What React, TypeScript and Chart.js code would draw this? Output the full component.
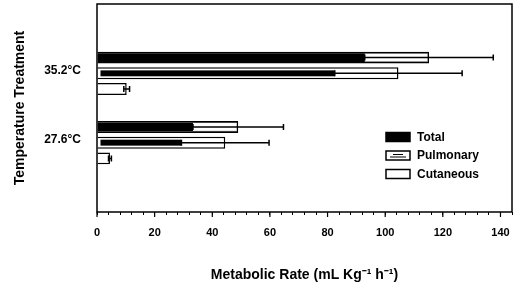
import React, { useEffect, useRef } from 'react';
import { Chart, registerables } from 'chart.js';

Chart.register(...registerables);

// ---- data ----
const categories = ['', '35.2°C', '27.6°C', ''];
const seriesNames = ['Total', 'Pulmonary', 'Cutaneous'];
const totalValues = [null, 115.2, 49.0, null];
const pulmonaryValues = [null, 104.6, 44.5, null];
const cutaneousValues = [null, 10.3, 4.5, null];
const totalErrors = [null, 22.3, 15.7, null];
const pulmonaryErrors = [null, 22.1, 15.2, null];
const cutaneousErrors = [null, 1.0, 0.5, null];
const xMin = 0;
const xMax = 144;
const xTickStep = 4;
const xLabelStep = 20;
const xTitle = 'Metabolic Rate (mL Kg⁻¹ h⁻¹)';
const yTitle = 'Temperature Treatment';

const FONT = 'Arial, "Liberation Sans", Helvetica, sans-serif';

const errorPlugin = {
  id: 'errorBars',
  afterDatasetsDraw(chart: any) {
    const ctx = chart.ctx;
    const xs = chart.scales.x;
    chart.data.datasets.forEach((ds: any, i: number) => {
      const meta = chart.getDatasetMeta(i);
      meta.data.forEach((bar: any, j: number) => {
        const v = ds.data[j];
        const e = ds.errors[j];
        if (v == null || e == null) return;
        const { x, y, base, height } = bar.getProps(['x', 'y', 'base', 'height'], true);
        const top = y - height / 2;
        const pLow = xs.getPixelForValue(v - e);
        const pHigh = xs.getPixelForValue(v + e);
        ctx.save();
        if (ds.kind === 'solid') {
          ctx.fillStyle = '#fff';
          ctx.fillRect(pLow, top + 2, x - 1.5 - pLow, height - 4);
        } else if (ds.kind === 'pattern') {
          ctx.fillStyle = '#000';
          ctx.fillRect(base + 3, top + 3, Math.max(0, pLow - base - 3), height - 6);
        }
        ctx.strokeStyle = '#000';
        ctx.lineWidth = 1.5;
        ctx.beginPath();
        ctx.moveTo(pLow, y);
        ctx.lineTo(pHigh, y);
        ctx.moveTo(pLow, y - 3);
        ctx.lineTo(pLow, y + 3);
        ctx.moveTo(pHigh, y - 3);
        ctx.lineTo(pHigh, y + 3);
        ctx.stroke();
        ctx.restore();
      });
    });
  },
  afterDraw(chart: any) {
    const ctx = chart.ctx;
    const { left, right, top, bottom } = chart.chartArea;
    const xs = chart.scales.x;
    ctx.save();
    // frame
    ctx.strokeStyle = '#000';
    ctx.lineWidth = 1.5;
    ctx.strokeRect(left, top, right - left, bottom - top);
    // major ticks
    ctx.lineWidth = 1.2;
    ctx.beginPath();
    for (let v = xMin; v <= xMax; v += xLabelStep) {
      const px = xs.getPixelForValue(v);
      ctx.moveTo(px, bottom);
      ctx.lineTo(px, bottom + 5);
    }
    ctx.stroke();
    // legend
    const boxX = right - 126;
    const boxW = 24;
    const boxH = 9;
    const rowY0 = top + 133;
    const rowGap = 18.5;
    ctx.font = `bold 12px ${FONT}`;
    ctx.textBaseline = 'middle';
    ctx.textAlign = 'left';
    chart.data.datasets.forEach((ds: any, i: number) => {
      const cy = rowY0 + i * rowGap;
      const by = cy - boxH / 2;
      ctx.fillStyle = ds.backgroundColor;
      ctx.fillRect(boxX, by, boxW, boxH);
      ctx.strokeStyle = '#000';
      ctx.lineWidth = 1.5;
      ctx.strokeRect(boxX, by, boxW, boxH);
      if (ds.kind === 'pattern') {
        ctx.lineWidth = 1;
        ctx.beginPath();
        ctx.moveTo(boxX + 7, cy - 1);
        ctx.lineTo(boxX + 17, cy - 1);
        ctx.moveTo(boxX + 4, cy + 1.5);
        ctx.lineTo(boxX + 20, cy + 1.5);
        ctx.stroke();
      }
      ctx.fillStyle = '#000';
      ctx.fillText(ds.label, boxX + boxW + 7, cy + 0.5);
    });
    ctx.restore();
  },
};

export default function App() {
  const ref = useRef<HTMLCanvasElement | null>(null);

  useEffect(() => {
    document.body.style.margin = '0';
    const canvas = ref.current;
    if (!canvas) return;
    const chart = new Chart(canvas, {
      type: 'bar',
      data: {
        labels: categories,
        datasets: [
          {
            label: seriesNames[0],
            data: totalValues,
            errors: totalErrors,
            kind: 'solid',
            backgroundColor: '#000',
            borderColor: '#000',
            borderWidth: 1.5,
          },
          {
            label: seriesNames[1],
            data: pulmonaryValues,
            errors: pulmonaryErrors,
            kind: 'pattern',
            backgroundColor: '#fff',
            borderColor: '#000',
            borderWidth: 1.5,
          },
          {
            label: seriesNames[2],
            data: cutaneousValues,
            errors: cutaneousErrors,
            kind: 'plain',
            backgroundColor: '#fff',
            borderColor: '#000',
            borderWidth: 1.5,
          },
        ] as any,
      },
      options: {
        indexAxis: 'y',
        responsive: false,
        animation: false,
        categoryPercentage: 0.68,
        barPercentage: 0.76,
        layout: { padding: { top: 4, right: 15, left: 0, bottom: 0 } },
        plugins: {
          legend: { display: false },
          tooltip: { enabled: false },
        },
        scales: {
          x: {
            type: 'linear',
            min: xMin,
            max: xMax,
            afterFit: (s: any) => {
              s.height = 76;
              s.paddingLeft = 0;
              s.paddingRight = 0;
            },
            border: { display: false },
            grid: {
              display: true,
              drawOnChartArea: false,
              drawTicks: true,
              tickLength: 3,
              color: '#000',
              lineWidth: 1,
            },
            ticks: {
              stepSize: xTickStep,
              autoSkip: false,
              maxRotation: 0,
              padding: 11,
              color: '#000',
              font: { family: FONT, size: 11, weight: 'bold' },
              callback: (v: any) => (Number(v) % xLabelStep === 0 ? String(v) : ''),
            },
            title: {
              display: true,
              text: xTitle,
              color: '#000',
              font: { family: FONT, size: 14, weight: 'bold' },
              padding: { top: 8, bottom: 4 },
            },
          },
          y: {
            type: 'category',
            offset: false,
            afterFit: (s: any) => {
              s.width = 97;
              s.paddingTop = 0;
              s.paddingBottom = 0;
            },
            border: { display: false },
            grid: { display: false, drawTicks: false },
            ticks: {
              padding: 16,
              labelOffset: -3,
              color: '#000',
              autoSkip: false,
              font: { family: FONT, size: 12, weight: 'bold' },
            },
            title: {
              display: true,
              text: yTitle,
              color: '#000',
              font: { family: FONT, size: 14, weight: 'bold' },
              padding: { top: 12, bottom: 0 },
            },
          },
        },
      } as any,
      plugins: [errorPlugin],
    });
    return () => chart.destroy();
  }, []);

  return (
    <div style={{ width: 527, height: 288, background: '#fff' }}>
      <canvas ref={ref} width={527} height={288} />
    </div>
  );
}
